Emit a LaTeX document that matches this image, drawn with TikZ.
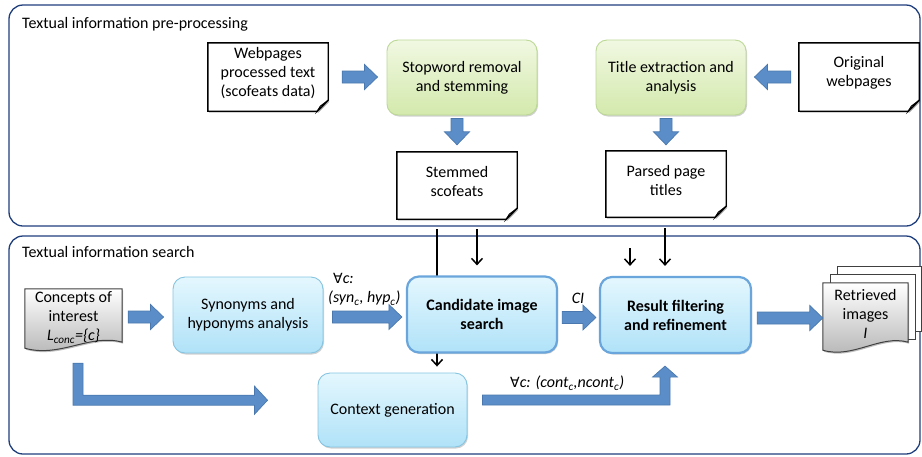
\documentclass[tikz,border=0pt]{standalone}
\usepackage{fontspec}
\setmainfont{Carlito}
\newfontfamily\djv{DejaVu Sans}
\usetikzlibrary{calc,shadows,arrows.meta}
\definecolor{panelc}{HTML}{1F3E7C}
\definecolor{gtop}{HTML}{F1F8E2}
\definecolor{gbot}{HTML}{D3E9AC}
\definecolor{gbord}{HTML}{BCD896}
\definecolor{btop}{HTML}{E4F7FE}
\definecolor{bbot}{HTML}{B0E2F8}
\definecolor{bbord}{HTML}{86C4E0}
\definecolor{bbold}{HTML}{6AA6DC}
\definecolor{afill}{HTML}{5B8EC8}
\definecolor{aline}{HTML}{4A78AE}
\pgfdeclarelayer{bg}
\pgfsetlayers{bg,main}
\newcommand\blockarrow[2]{%
  \coordinate (bah) at ($(#2)!13pt!(#1)$);
  \draw[barrow] ($(#1)!6pt!90:(#2)$) -- ($(bah)!6pt!90:(#2)$) -- ($(bah)!12.5pt!90:(#2)$) -- (#2)
    -- ($(bah)!12.5pt!-90:(#2)$) -- ($(bah)!6pt!-90:(#2)$) -- ($(#1)!6pt!-90:(#2)$) -- cycle;}
\newcommand\foldeddoc[1]{%
  \draw[docline] (#1.north west) -- (#1.north east) -- ([yshift=11pt]#1.south east)
    -- ([xshift=-11pt]#1.south east) -- (#1.south west) -- cycle;
  \draw[docline,line width=0.9pt,fill=black!25] ([yshift=11pt]#1.south east) -- ([xshift=-11pt]#1.south east)
    -- ([xshift=-8pt,yshift=5pt]#1.south east) -- cycle;}
\begin{document}
\begin{tikzpicture}[x=1pt,y=-1pt,
  font=\fontsize{16}{19}\selectfont,
  panel/.style={draw=panelc,line width=1.3pt,rounded corners=14pt},
  ptitle/.style={anchor=west,inner sep=0pt},
  doc/.style={minimum width=120pt,minimum height=68pt,inner sep=0pt},
  docline/.style={draw=black,line width=1.4pt,fill=white,
    drop shadow={shadow xshift=1pt,shadow yshift=-1.5pt,opacity=0.25,fill=black}},
  wavedoc/.style={draw=black!75,line width=1pt,top color=white,bottom color=black!30,
    drop shadow={shadow xshift=1pt,shadow yshift=-1.5pt,opacity=0.25,fill=black}},
  sheet/.style={draw=black!75,line width=1pt,fill=white},
  boxshadow/.style={drop shadow={shadow xshift=1pt,shadow yshift=-1.5pt,opacity=0.3,fill=black!60}},
  greenbox/.style={rounded corners=11pt,draw=gbord,line width=0.9pt,top color=gtop,bottom color=gbot,
    boxshadow,align=center,minimum width=150pt,minimum height=75pt,inner sep=2pt},
  bluebox/.style={rounded corners=12pt,draw=bbord,line width=0.9pt,top color=btop,bottom color=bbot,
    boxshadow,align=center,minimum width=150pt,minimum height=76pt,inner sep=2pt},
  bluebold/.style={bluebox,draw=bbold,line width=2.2pt,font=\fontsize{16}{19}\selectfont\bfseries},
  barrow/.style={fill=afill,draw=aline,line width=0.7pt},
  thinarrow/.style={draw=black,line width=1.5pt,-{Straight Barb[length=6pt,width=11pt,line width=1.5pt]}},
  lbl/.style={font=\fontsize{16}{19}\selectfont\itshape,inner sep=0pt},
  ]
\useasboundingbox (0,0) rectangle (922,456);

% panels
\begin{pgfonlayer}{bg}
\draw[panel] (9,5) rectangle (920,226);
\draw[panel] (9,236) rectangle (920,454);
\end{pgfonlayer}
\node[ptitle] (t1) at (22,24) {Textual information pre-processing};
\node[ptitle] (t2) at (22,252) {Textual information search};

% top row
\node[doc,label={[align=center,yshift=4pt]center:{Webpages\\processed text\\(scofeats data)}}] (web) at (268,77) {};
\node[greenbox] (stop) at (462,77.5) {Stopword removal\\and stemming};
\node[greenbox] (title) at (671,77.5) {Title extraction and\\analysis};
\node[doc,label={[align=center,yshift=4pt]center:{Original\\webpages}}] (orig) at (859,77) {};
\node[doc,minimum height=67pt,label={[align=center,yshift=4pt]center:{Stemmed\\scofeats}}] (stem) at (457,185.5) {};
\node[doc,minimum height=66pt,label={[align=center,yshift=4pt]center:{Parsed page\\titles}}] (parsed) at (666,184) {};

% bottom row
\node[minimum width=97pt,minimum height=57pt,inner sep=0pt,align=center] (conc) at (73.5,317.5) {};
\node[bluebox] (syn) at (248,315) {Synonyms and\\hyponyms analysis};
\node[bluebold] (cand) at (482,314.5) {Candidate image\\search};
\node[bluebold,minimum width=151pt] (res) at (675.5,315) {Result filtering\\and refinement};
\node[bluebox,minimum width=149pt,minimum height=74pt] (ctx) at (392.5,410) {Context generation};
\node[minimum width=85pt,minimum height=64pt,inner sep=0pt] (ret) at (865.5,315) {};

% shapes behind nodes
\begin{pgfonlayer}{bg}
\foldeddoc{web}
\foldeddoc{orig}
\foldeddoc{stem}
\foldeddoc{parsed}
\draw[wavedoc] (conc.north west) -- (conc.north east) -- ($(conc.south east)+(0,-4)$)
  .. controls ($(conc.south east)+(-32,-13)$) and ($(conc.south west)+(35,12)$) .. ($(conc.south west)+(0,2)$) -- cycle;
\draw[sheet] ($(ret.north west)+(15,-16)$) rectangle ($(ret.south east)+(13.5,-16)$);
\draw[sheet] ($(ret.north west)+(7.5,-8)$) rectangle ($(ret.south east)+(7,-8)$);
\draw[wavedoc] (ret.north west) -- (ret.north east) -- ($(ret.south east)+(0,-5)$)
  .. controls ($(ret.south east)+(-28,-13)$) and ($(ret.south west)+(30,12)$) .. ($(ret.south west)+(0,3)$) -- cycle;
% thin connectors
\coordinate (s1) at ([xshift=-20pt,yshift=-10pt]stem.south);
\coordinate (s2) at ([xshift=20pt,yshift=-10pt]stem.south);
\coordinate (p1) at ([xshift=-36pt,yshift=-31pt]parsed.south);
\coordinate (p2) at ([xshift=-1pt,yshift=-11pt]parsed.south);
\draw[thinarrow,shorten >=6pt] (s1) -- (s1 |- ctx.north);
\draw[thinarrow,shorten >=10pt] (s2) -- (s2 |- cand.north);
\draw[thinarrow,shorten >=10pt] (p1) -- (p1 |- res.north);
\draw[thinarrow,shorten >=10pt] (p2) -- (p2 |- res.north);
\end{pgfonlayer}

\node[align=center] (conctext) at (conc.center) {Concepts of\\interest\\\textit{L\textsubscript{conc}=\{c\}}};
\node[align=center] (rettext) at ([yshift=1pt]ret.center) {Retrieved\\images\\\textit{I}};

% block arrows
\coordinate (a1s) at ($(web.east)+(14,0)$);
\coordinate (a1e) at ($(web.east -| stop.west)+(-9,0)$);
\blockarrow{a1s}{a1e}
\coordinate (a2s) at ($(orig.west)+(-8,0)$);
\coordinate (a2e) at ($(orig.west -| title.east)+(8,0)$);
\blockarrow{a2s}{a2e}
\coordinate (a3s) at ($(stem.north |- stop.south)+(0,3)$);
\coordinate (a3e) at ($(stem.north)+(0,-7)$);
\blockarrow{a3s}{a3e}
\coordinate (a4s) at ($(parsed.north |- title.south)+(0,3)$);
\coordinate (a4e) at ($(parsed.north)+(0,-6)$);
\blockarrow{a4s}{a4e}
\coordinate (a5s) at ($(syn.west -| conc.east)+(6,2)$);
\coordinate (a5e) at ($(syn.west)+(-9,2)$);
\blockarrow{a5s}{a5e}
\coordinate (a6s) at ($(syn.east)+(9,2)$);
\coordinate (a6e) at ($(syn.east -| cand.west)+(-4,2)$);
\blockarrow{a6s}{a6e}
\coordinate (a7s) at ($(cand.east)+(4,3)$);
\coordinate (a7e) at ($(cand.east -| res.west)+(-3,3)$);
\blockarrow{a7s}{a7e}
\coordinate (a8s) at ($(res.east)+(5,3)$);
\coordinate (a8e) at ($(res.east -| ret.west)+(0,3)$);
\blockarrow{a8s}{a8e}

% L-shaped arrow from concepts
\coordinate (l1) at ($(conc.south)+(4.5,17)$);
\coordinate (l2) at ($(l1)+(0,37)$);
\coordinate (l3) at ($(ctx.west |- l2)+(-50,0)$);
\draw[barrow] ($(l1)+(-5,0)$) -- ($(l1)+(5,0)$) -- ($(l2)+(5,-5)$) -- ($(l3)+(-13,-5)$) -- ($(l3)+(-13,-14)$)
  -- (l3) -- ($(l3)+(-13,14)$) -- ($(l3)+(-13,5)$) -- ($(l2)+(-5,5)$) -- cycle;

% arrow from context generation to result filtering
\coordinate (c1) at ($(ctx.east)+(15,-10)$);
\coordinate (c3) at ($(res.south)+(-10.5,12)$);
\coordinate (c2) at (c3 |- c1);
\draw[barrow] ($(c1)+(0,-5)$) -- ($(c2)+(-5,-5)$) -- ($(c3)+(-5,11)$) -- ($(c3)+(-12.5,11)$) -- (c3)
  -- ($(c3)+(12.5,11)$) -- ($(c3)+(5,11)$) -- ($(c2)+(5,5)$) -- ($(c1)+(0,5)$) -- cycle;

% labels
\node[lbl,anchor=west] (lab1) at (333,278) {{\djv\fontsize{14}{16}\selectfont ∀}c:};
\node[lbl,anchor=west] (lab2) at (328,298) {(syn\textsubscript{c}, hyp\textsubscript{c})};
\node[lbl] (lab3) at (578,298) {CI};
\node[lbl,anchor=west] (lab4) at (510,383) {{\djv\fontsize{14}{16}\selectfont ∀}c: (cont\textsubscript{c},ncont\textsubscript{c})};
\end{tikzpicture}
\end{document}
